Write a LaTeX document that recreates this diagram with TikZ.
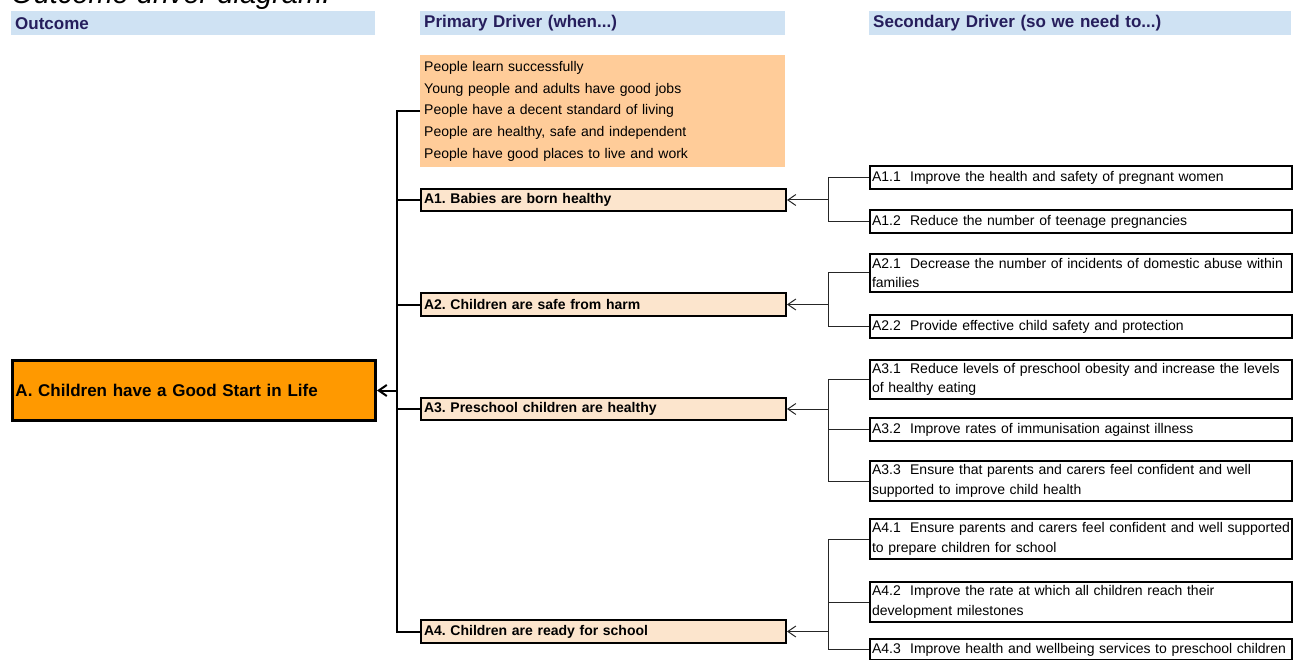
\documentclass[tikz,border=0pt]{standalone}
\usepackage{fontspec}
\setmainfont{Liberation Sans}
\usetikzlibrary{arrows.meta,calc}
\definecolor{barblue}{RGB}{207,226,243}
\definecolor{headnavy}{RGB}{38,30,92}
\definecolor{goalpeach}{RGB}{255,204,153}
\definecolor{drivepeach}{RGB}{252,229,205}
\definecolor{outorange}{RGB}{255,153,0}
\frenchspacing

\begin{document}
\begin{tikzpicture}[x=1pt,y=-1pt,
    bar/.style={anchor=north west,fill=barblue,text=headnavy,font=\bfseries\fontsize{17}{17}\selectfont,
        inner xsep=4pt,inner ysep=0pt,minimum height=24pt,text width=#1,align=left},
    goals/.style={anchor=north west,fill=goalpeach,font=\fontsize{14}{21.75}\selectfont,
        inner xsep=4pt,minimum height=112pt,text width=357pt,align=left},
    prim/.style={anchor=north west,draw,line width=2pt,fill=drivepeach,font=\bfseries\fontsize{14}{16}\selectfont,
        inner xsep=3pt,inner ysep=0pt,minimum height=#1,text width=359pt,align=left},
    act/.style={anchor=north west,draw,line width=2pt,fill=white,font=\fontsize{14}{19.5}\selectfont,
        inner xsep=2pt,inner ysep=0pt,minimum height=#1,text width=418pt,align=left},
    link/.style={line width=1pt,draw=black!85},
    spine/.style={line width=2pt},
    tip/.style={-{Straight Barb[length=8pt,width=11pt]}}]
    \clip (0,0) rectangle (1306,660);

    \node[anchor=base west,font=\itshape\fontsize{29}{29}\selectfont,inner sep=0pt] (title) at (11,4) {Outcome driver diagram.};

    % column heads
    \node[bar=356pt] (hout) at (11,11) {Outcome};
    \node[bar=357pt] (hprim) at (420,11) {Primary Driver (when...)};
    \node[bar=414pt] (hsec) at (869,11) {Secondary Driver (so we need to...)};

    \node[goals] (goals) at (420,55) {People learn successfully\\Young people and adults have good jobs\\People have a decent standard of living\\People are healthy, safe and independent\\People have good places to live and work};

    \node[anchor=north west,draw,line width=3pt,fill=outorange,font=\bfseries\fontsize{17}{17}\selectfont,
        inner xsep=3pt,minimum height=60pt,text width=357pt,align=left] (out) at (11,359) {A. Children have a Good Start in Life};

    % primary drivers
    \node[prim=22pt] (a1) at (420,188) {A1. Babies are born healthy};
    \node[prim=23pt] (a2) at (420,292) {A2. Children are safe from harm};
    \node[prim=22pt] (a3) at (420,397) {A3. Preschool children are healthy};
    \node[prim=23pt] (a4) at (420,619) {A4. Children are ready for school};

    % secondary drivers
    \node[act=23pt] (a11) at (869,165) {A1.1~ Improve the health and safety of pregnant women};
    \node[act=23pt] (a12) at (869,209) {A1.2~ Reduce the number of teenage pregnancies};
    \node[act=38pt] (a21) at (869,253) {A2.1~ Decrease the number of incidents of domestic abuse within\\families};
    \node[act=23pt] (a22) at (869,314) {A2.2~ Provide effective child safety and protection};
    \node[act=39pt] (a31) at (869,359) {A3.1~ Reduce levels of preschool obesity and increase the levels\\of healthy eating};
    \node[act=23pt] (a32) at (869,417) {A3.2~ Improve rates of immunisation against illness};
    \node[act=40pt] (a33) at (869,460) {A3.3~ Ensure that parents and carers feel confident and well\\supported to improve child health};
    \node[act=40pt] (a41) at (869,518) {A4.1~ Ensure parents and carers feel confident and well supported\\to prepare children for school};
    \node[act=40pt] (a42) at (869,581) {A4.2~ Improve the rate at which all children reach their\\development milestones};
    \node[act=21pt] (a43) at (869,638) {A4.3~ Improve health and wellbeing services to preschool children};

    % primary links
    \draw[spine] (goals.west) -- ++(-23,0) |- (a4.west);
    \draw[spine] (a1.west) -- ++(-23,0);
    \draw[spine] (a2.west) -- ++(-23,0);
    \draw[spine] (a3.west) -- ++(-23,0);
    \draw[spine,tip] ($(out.east -| goals.west)+(-23,0)$) -- (out.east);

    % secondary links
    \draw[link] (a11.west) -- ++(-41,0) |- (a12.west);
    \draw[link] (a21.west) -- ++(-41,0) |- (a22.west);
    \draw[link] (a31.west) -- ++(-41,0) |- (a33.west);
    \draw[link] (a32.west) -- ++(-41,0);
    \draw[link] (a41.west) -- ++(-41,0) |- (a43.west);
    \draw[link] (a42.west) -- ++(-41,0);
    \draw[link,tip] ($(a1.east -| a11.west)+(-41,0)$) -- (a1.east);
    \draw[link,tip] ($(a2.east -| a21.west)+(-41,0)$) -- (a2.east);
    \draw[link,tip] ($(a3.east -| a31.west)+(-41,0)$) -- (a3.east);
    \draw[link,tip] ($(a4.east -| a41.west)+(-41,0)$) -- (a4.east);
\end{tikzpicture}
\end{document}
